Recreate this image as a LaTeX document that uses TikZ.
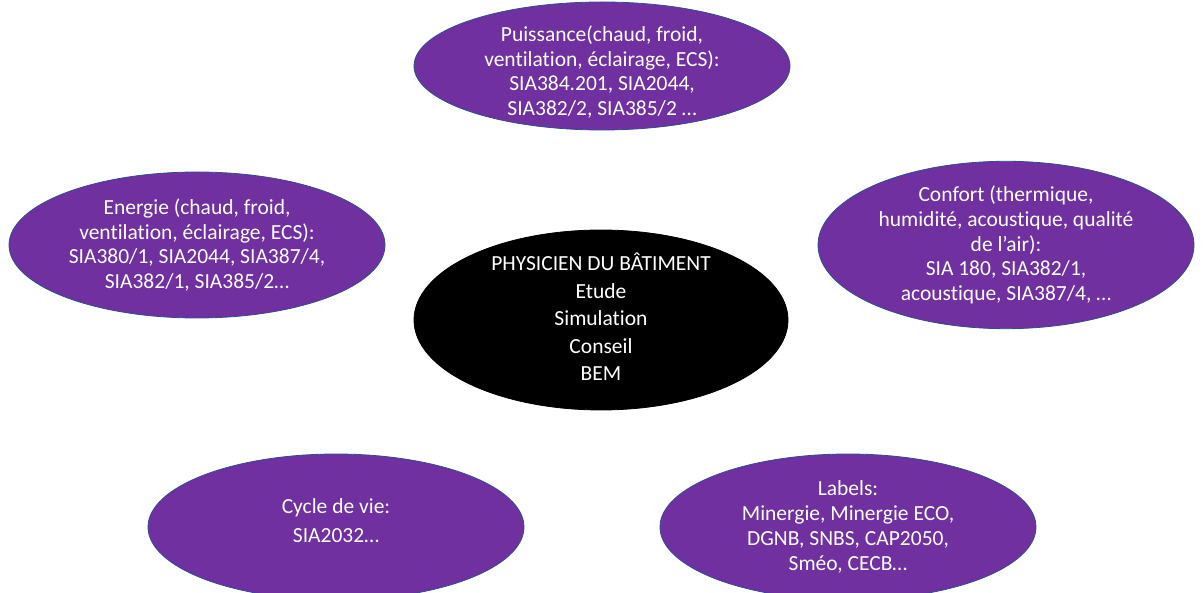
\documentclass[tikz,border=0pt]{standalone}
\usepackage{fontspec}
\setmainfont{Carlito}[Ligatures=NoCommon]
\usetikzlibrary{shapes.geometric}

\definecolor{violet}{HTML}{7030A0}
\definecolor{contour}{HTML}{2F4F8F}

\begin{document}
\begin{tikzpicture}[x=1pt,y=-1pt,
    theme/.style={ellipse,fill=violet,draw=contour,line width=0.8pt,
      text=white,align=center,inner sep=0pt,
      minimum width=376pt,minimum height=146pt,
      font=\fontsize{21.5}{24.8}\selectfont},
    texte/.style={align=center,text=white,font=\fontsize{21.5}{24.8}\selectfont},
    centre/.style={theme,fill=black,draw=black,
      minimum width=374pt,minimum height=180pt,
      font=\fontsize{21.5}{27.5}\selectfont}]
    \useasboundingbox (0,0) rectangle (1203,593);
    \clip (0,0) rectangle (1203,593);
    \node[centre] (physicien) at (601,320) {};
    \node[texte,font=\fontsize{21.5}{27.5}\selectfont] (physicientxt) at (601,317)
        {PHYSICIEN DU BÂTIMENT\\Etude\\Simulation\\Conseil\\BEM};
    \node[theme,minimum height=128pt] (puissance) at (602,66) {};
    \node[texte] (puissancetxt) at (602,72)
        {Puissance(chaud, froid,\\ventilation, éclairage, ECS):\\SIA384.201, SIA2044,\\SIA382/2, SIA385/2 \dots};
    \node[theme] (energie) at (197,245)
        {Energie (chaud, froid,\\ventilation, éclairage, ECS):\\SIA380/1, SIA2044, SIA387/4,\\SIA382/1, SIA385/2\dots};
    \node[theme] (confort) at (1006,245)
        {Confort (thermique,\\humidité, acoustique, qualité\\de l’air):\\SIA 180, SIA382/1,\\acoustique, SIA387/4, \dots};
    \node[theme] (cycle) at (336,527) {};
    \node[texte,font=\fontsize{21.5}{29}\selectfont] (cycletxt) at (336,521) {Cycle de vie:\\SIA2032\dots};
    \node[theme] (labels) at (848,527)
        {Labels:\\Minergie, Minergie ECO,\\DGNB, SNBS, CAP2050,\\Sméo, CECB\dots};
\end{tikzpicture}
\end{document}
